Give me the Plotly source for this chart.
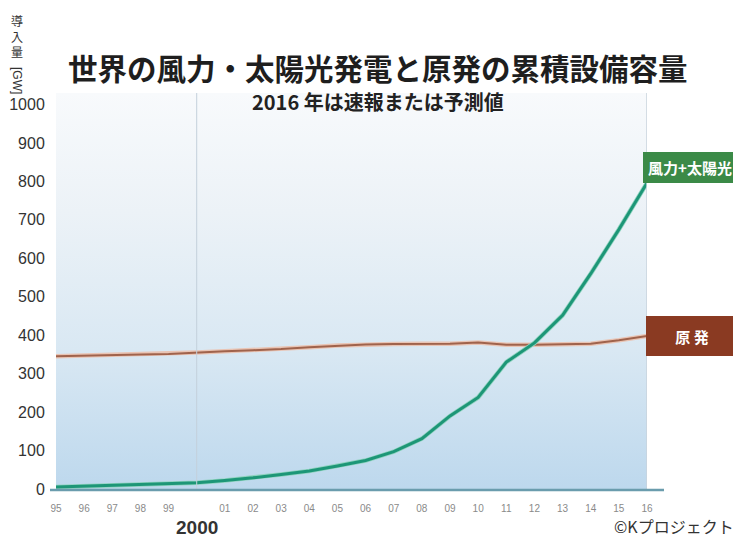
import plotly.graph_objects as go

# ---- data ----
years = list(range(1995, 2017))
tick_labels = ["95", "96", "97", "98", "99", "", "01", "02", "03", "04", "05",
               "06", "07", "08", "09", "10", "11", "12", "13", "14", "15", "16"]
renewables = [5, 7, 9, 11, 13, 16, 22, 29, 38, 47, 60, 74, 97, 131, 190, 238,
              330, 380, 452, 560, 675, 796]
nuclear = [345, 347, 349, 350, 351, 355, 358, 361, 364, 369, 373, 376, 377,
           378, 378, 381, 375, 375, 376, 378, 387, 398]
y_ticks = list(range(0, 1001, 100))
millennium = 2000

title_text = "世界の風力・太陽光発電と原発の累積設備容量"
subtitle_text = "2016 年は速報または予測値"
renew_label = "風力+太陽光"
nuclear_label = "原 発"
copyright_text = "©Kプロジェクト"
axis_chars = ["導", "入", "量"]
axis_unit = "[GW]"

# ---- layout constants (reference pixel frame 741x538) ----
OFF = 8                      # page body margin of the viewer
RW, RH = 741, 538
W, H = RW - OFF, RH - OFF
L, R, T, B = 56, 94, 93, 49  # plot edges in reference pixels
PW, PH = RW - L - R, RH - T - B
Y_MAX = 1030


def px_x(px):
    return (px - L) / PW


def px_y(py):
    return (RH - B - py) / PH


CJK = "Noto Sans CJK JP"
SANS = "Liberation Sans, Arial, sans-serif"

fig = go.Figure()

# gradient background of the plotting area
x0, x1 = years[0], years[-1]
fig.add_trace(go.Scatter(
    x=[x0, x1, x1, x0, x0], y=[0, 0, Y_MAX, Y_MAX, 0],
    fill="toself", mode="none", hoverinfo="skip", showlegend=False,
    fillgradient=dict(type="vertical",
                      colorscale=[[0, "#bdd8ed"], [0.35, "#d9e8f3"],
                                  [0.7, "#ecf2f7"], [1, "#f8fafc"]]),
))

# nuclear line (light halo + dark core)
fig.add_trace(go.Scatter(x=years, y=nuclear, mode="lines",
                         line=dict(color="#e9c4b4", width=4.5),
                         hoverinfo="skip", showlegend=False))
fig.add_trace(go.Scatter(x=years, y=nuclear, mode="lines",
                         line=dict(color="#a0634c", width=2),
                         name="原発", showlegend=False))
# renewables line
fig.add_trace(go.Scatter(x=years, y=renewables, mode="lines",
                         line=dict(color="#8fd3bf", width=4.5),
                         hoverinfo="skip", showlegend=False))
fig.add_trace(go.Scatter(x=years, y=renewables, mode="lines",
                         line=dict(color="#1d9677", width=3),
                         name="風力+太陽光", showlegend=False))

shapes = [
    dict(type="line", xref="x", yref="paper", x0=millennium, x1=millennium,
         y0=0, y1=1, line=dict(color="#c3d0db", width=1)),
    dict(type="line", xref="x", yref="paper", x0=years[-1], x1=years[-1],
         y0=0, y1=1, line=dict(color="#c8d3dc", width=1.5)),
    dict(type="line", xref="paper", yref="paper", x0=px_x(50), x1=px_x(664),
         y0=px_y(490), y1=px_y(490), line=dict(color="#6a9cad", width=2.5)),
]


def note(text, px, py, size, family=CJK, color="#333", xanchor="center",
         yanchor="middle", **kw):
    return dict(text=text, xref="paper", yref="paper", x=px_x(px), y=px_y(py),
                xanchor=xanchor, yanchor=yanchor, showarrow=False,
                font=dict(family=family, size=size, color=color), **kw)


annotations = [
    note("<b>" + title_text + "</b>", 378, 67, 29.5, color="#1e1e1e"),
    note("<b>" + subtitle_text + "</b>", 378, 101, 20, color="#222"),
    note("<br>".join(axis_chars), 17, 11, 12, yanchor="top", borderpad=0),
    note(axis_unit, 17, 80, 12, family=SANS, textangle=90, borderpad=0),
    note("<b>2000</b>", 197, 527, 19, family=SANS),
    note(copyright_text, 736, 526, 16, xanchor="right"),
    dict(text="<b>" + renew_label + "</b>", xref="paper", yref="y",
         x=px_x(643), y=renewables[-1], xanchor="left", yanchor="bottom",
         showarrow=False, bgcolor="#3b8a47", width=90, height=27, borderpad=2,
         borderwidth=0,
         font=dict(family=CJK, size=15, color="white")),
    dict(text="<b>" + nuclear_label + "</b>", xref="paper", yref="y",
         x=px_x(646), y=nuclear[-1], xanchor="left", yanchor="middle",
         showarrow=False, bgcolor="#8a3a22", width=88, height=36, borderpad=2,
         borderwidth=0,
         font=dict(family=CJK, size=15, color="white")),
]

fig.update_layout(
    width=W, height=H,
    margin=dict(l=L - OFF, r=R, t=T - OFF, b=B, autoexpand=False),
    paper_bgcolor="white", plot_bgcolor="white",
    showlegend=False,
    shapes=shapes, annotations=annotations,
    xaxis=dict(range=[years[0], years[-1]], tickmode="array",
               tickvals=years, ticktext=tick_labels, automargin=False,
               showgrid=False, zeroline=False, showline=False,
               ticks="outside", ticklen=10, tickcolor="rgba(0,0,0,0)",
               tickfont=dict(family=SANS, size=10, color="#8a8a8a")),
    yaxis=dict(range=[0, Y_MAX], tickmode="array", tickvals=y_ticks,
               automargin=False,
               showgrid=False, zeroline=False, showline=False,
               ticks="outside", ticklen=7, tickcolor="rgba(0,0,0,0)",
               tickfont=dict(family=SANS, size=16, color="#333")),
)

fig.write_html("out.html")
